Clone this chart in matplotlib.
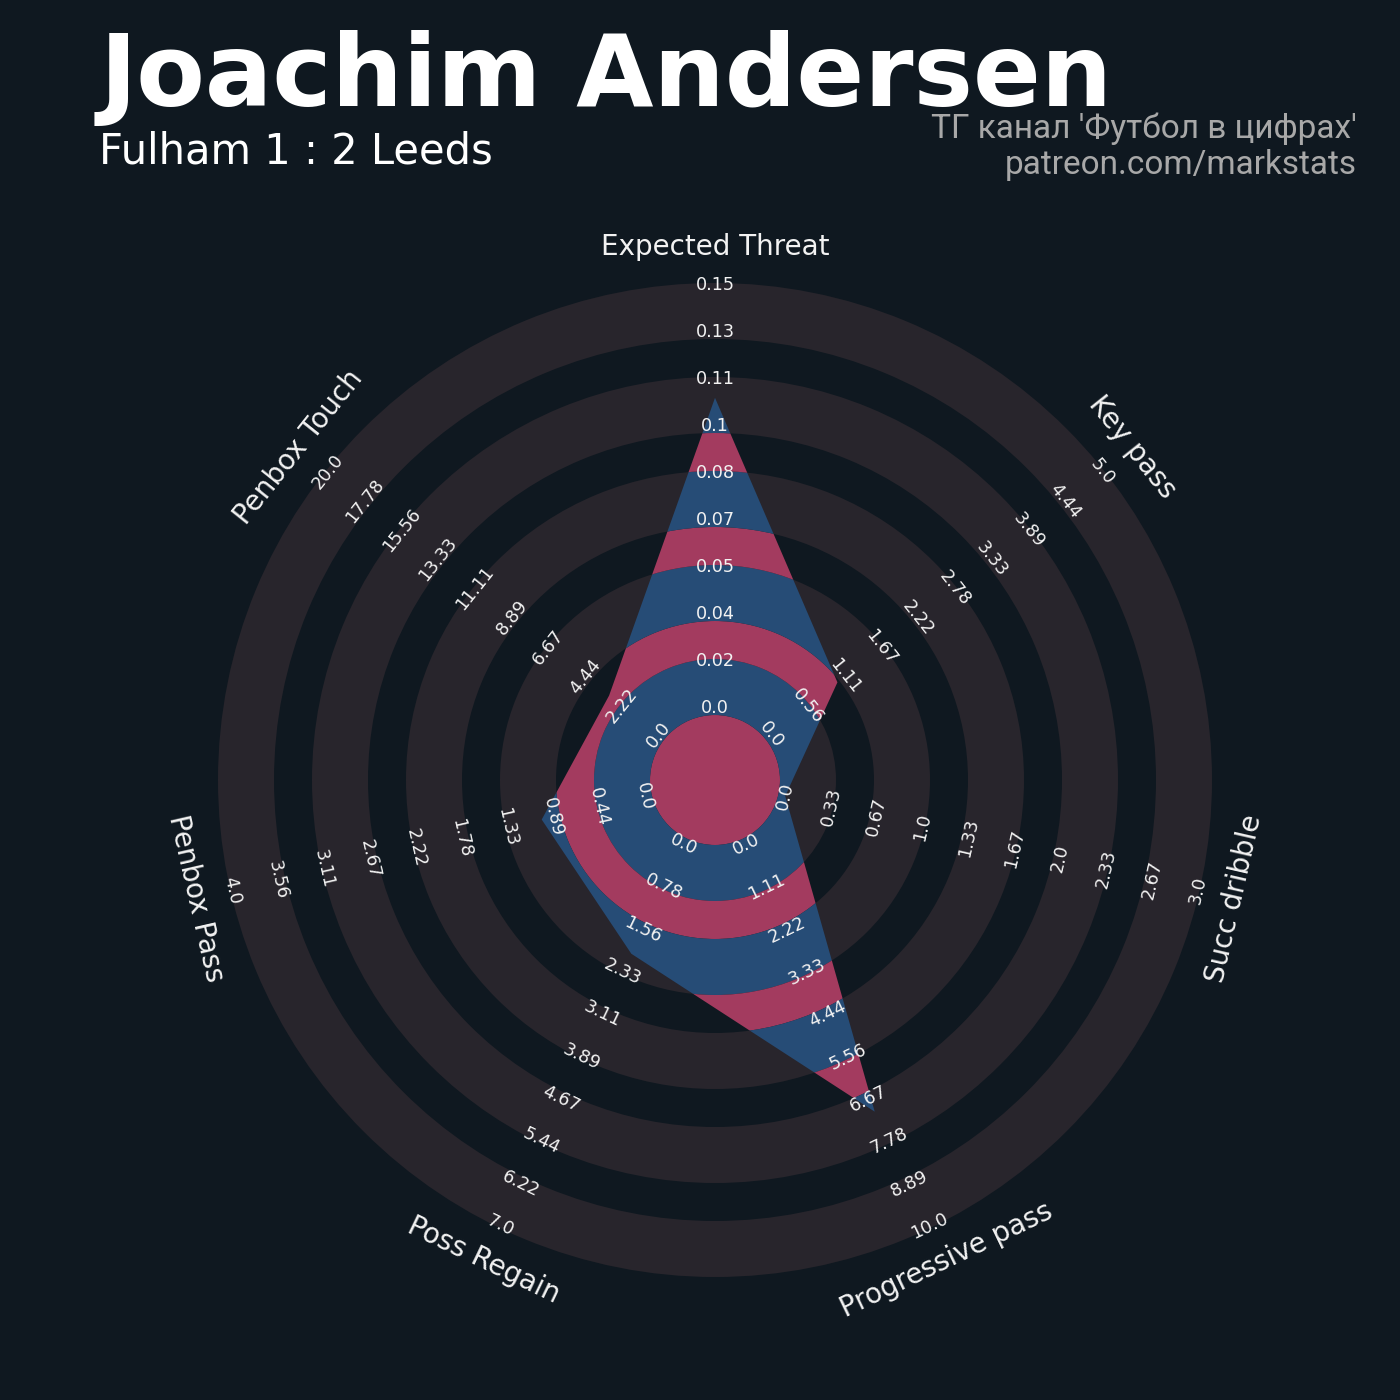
import numpy as np
import matplotlib.pyplot as plt
from matplotlib.patches import Wedge, Polygon

#------------------------------------
# Data
params = ['Expected Threat', 'Key pass', 'Succ dribble', 'Progressive pass',
          'Poss Regain', 'Penbox Pass', 'Penbox Touch']
low = [0.004, 0, 0, 0, 0, 0, 0]
high = [0.14584, 5, 3, 10, 7, 4, 20]
values = [0.108, 1, 0, 7, 2, 1, 3]

title = 'Joachim Andersen'
subtitle = 'Fulham 1 : 2 Leeds'
credit = ["ТГ канал 'Футбол в цифрах'", 'patreon.com/markstats']

#------------------------------------
# Style
bg = '#0f1820'
ring_color = '#28252c'
col_a = '#a33b5f'   # magenta
col_b = '#264c76'   # blue
text_color = '#f2f2f2'

r0, r_step, n_labels = 72, 47, 10           # radius of first range label, spacing
edges = [0, 65, 121, 159, 215, 253, 309, 347, 403, 441, 497]
param_r = 533

fig = plt.figure(figsize=(14, 14), dpi=100, facecolor=bg)
ax = fig.add_axes([0, 0, 1, 1])
ax.set_facecolor(bg)
ax.set_xlim(-715, 685)
ax.set_ylim(-620, 780)
ax.set_aspect('equal')
ax.axis('off')

n = len(params)
angles = np.deg2rad(90 - np.arange(n) * 360 / n)

# Background rings:
for i in range(len(edges) - 1):
    if i % 2 == 1:
        ax.add_patch(Wedge((0, 0), edges[i + 1], 0, 360, width=edges[i + 1] - edges[i],
                           facecolor=ring_color, edgecolor='none', lw=0))

# Radar polygon:
lo, hi, vals = np.array(low), np.array(high), np.array(values)
radii = r0 + (vals - lo) / (hi - lo) * r_step * (n_labels - 1)
verts = np.column_stack([radii * np.cos(angles), radii * np.sin(angles)])
poly = Polygon(verts, closed=True, facecolor='none', edgecolor='none')
ax.add_patch(poly)
for i in range(len(edges) - 1):
    color = col_a if i % 2 == 0 else col_b
    w = Wedge((0, 0), edges[i + 1], 0, 360, width=edges[i + 1] - edges[i],
              facecolor=color, edgecolor='none', lw=0)
    ax.add_patch(w)
    w.set_clip_path(poly)


def tangent_rot(a):
    deg = (np.rad2deg(a) + 180) % 360 - 180
    rot = deg - 90
    if rot < -90:
        rot += 180
    return rot


# Range labels and parameter names:
for j in range(n):
    rot = tangent_rot(angles[j])
    ca, sa = np.cos(angles[j]), np.sin(angles[j])
    for i, v in enumerate(np.linspace(low[j], high[j], n_labels)):
        r = r0 + i * r_step
        ax.text(r * ca, r * sa, str(round(float(v), 2)), rotation=rot,
                ha='center', va='center', fontsize=12.7, color=text_color)
    ax.text(param_r * ca, param_r * sa, params[j], rotation=rot,
            ha='center', va='center', fontsize=20, color=text_color)

#------------------------------------
# Titles
fig.text(100 / 1400, 1 - 106 / 1400, title, fontsize=72, fontweight='bold',
         color='white', ha='left', va='baseline')
fig.text(99 / 1400, 1 - 164 / 1400, subtitle, fontsize=30,
         color='white', ha='left', va='baseline')
fig.text(1357 / 1400, 1 - 138 / 1400, credit[0], fontsize=24, family='Roboto',
         color='#a8a8a8', ha='right', va='baseline')
fig.text(1357 / 1400, 1 - 174 / 1400, credit[1], fontsize=24, family='Roboto',
         color='#a8a8a8', ha='right', va='baseline')

fig.savefig('out.png', dpi=100, facecolor=bg)
